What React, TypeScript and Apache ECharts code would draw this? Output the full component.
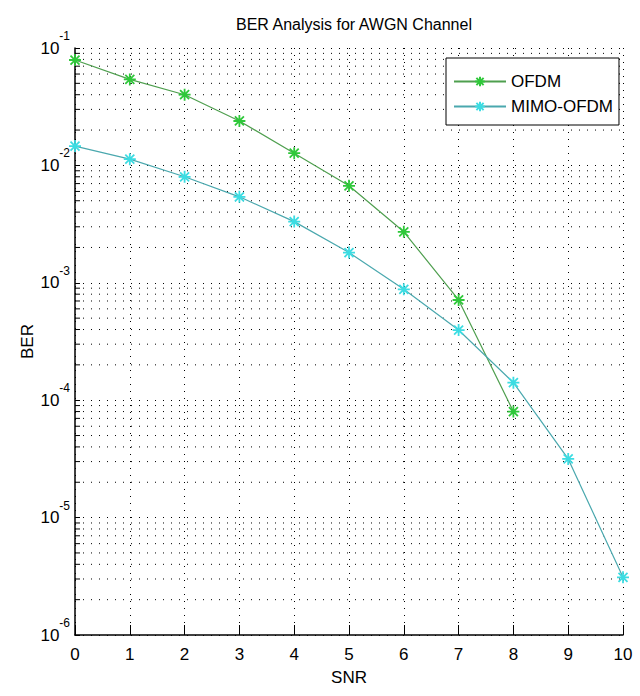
import React, { useEffect, useRef } from "react";
import * as echarts from "echarts";

const snr = [0, 1, 2, 3, 4, 5, 6, 7, 8, 9, 10];
const berOFDM = [0.079, 0.054, 0.040, 0.0239, 0.0127, 0.0067, 0.00272, 0.000714, 0.00008];
const berMIMO = [0.0146, 0.0113, 0.0080, 0.0054, 0.00332, 0.00181, 0.00088, 0.000396, 0.000141, 0.0000316, 0.0000031];
const decades = [-6, -5, -4, -3, -2];
const minorMultipliers = [2, 3, 4, 5, 6, 7, 8, 9];

const FONT = "'Liberation Sans', Arial, Helvetica, sans-serif";
const STAR = "path://M0,-10L0,10M-10,0L10,0M-7.5,-7.5L7.5,7.5M-7.5,7.5L7.5,-7.5";

export default function App() {
  const ref = useRef<HTMLDivElement>(null);
  useEffect(() => {
    if (!ref.current) return;
    const chart = echarts.init(ref.current, null, { renderer: "svg" });
    const minorVals: number[] = [];
    decades.forEach((d) => minorMultipliers.forEach((m) => minorVals.push(m * Math.pow(10, d))));

    chart.setOption({
      animation: false,
      backgroundColor: "#fff",
      title: {
        text: "BER Analysis for AWGN Channel",
        left: 231,
        top: 11,
        textStyle: { fontFamily: FONT, fontSize: 16, fontWeight: "normal", color: "#000" },
      },
      legend: {
        left: 446,
        top: 58,
        orient: "vertical",
        backgroundColor: "#fff",
        borderColor: "#000",
        borderWidth: 1,
        padding: [15, 6, 10, 7],
        itemGap: 8,
        itemWidth: 52,
        itemHeight: 12,
        textStyle: { fontFamily: FONT, fontSize: 17, color: "#000" },
        data: ["OFDM", "MIMO-OFDM"],
      },
      grid: { left: 75, right: 17, top: 48, bottom: 61 },
      xAxis: {
        type: "value",
        min: 0,
        max: 10,
        interval: 1,
        name: "SNR",
        nameLocation: "middle",
        nameGap: 34,
        nameMoveOverlap: false,
        nameTextStyle: { fontFamily: FONT, fontSize: 17, color: "#000" },
        axisLine: { lineStyle: { color: "#000", width: 1.5 } },
        axisTick: { inside: true, length: 10, lineStyle: { color: "#000" } },
        axisLabel: { fontFamily: FONT, fontSize: 17, color: "#000", margin: 11 },
        splitLine: { show: true, lineStyle: { color: "#000", type: [1, 6], width: 1 } },
      },
      yAxis: {
        type: "log",
        logBase: 10,
        min: 1e-6,
        max: 1e-1,
        splitNumber: 5,
        name: "BER",
        nameLocation: "middle",
        nameGap: 39,
        nameMoveOverlap: false,
        nameTextStyle: { fontFamily: FONT, fontSize: 17, color: "#000" },
        axisLine: { show: true, lineStyle: { color: "#000", width: 1.5 } },
        axisTick: { inside: true, length: 5, lineStyle: { color: "#000" } },
        axisLabel: {
          margin: 5,
          formatter: (v: number) => `{b|10}{e|${Math.round(Math.log10(v))}}`,
          rich: {
            b: { fontFamily: FONT, fontSize: 17, color: "#000", lineHeight: 36 },
            e: { fontFamily: FONT, fontSize: 12, color: "#000", lineHeight: 13, verticalAlign: "top" },
          },
        },
        splitLine: { show: true, lineStyle: { color: "#000", type: [1, 7], width: 1 } },
      },
      series: [
        {
          name: "minorGrid",
          type: "custom",
          silent: true,
          z: 1,
          data: minorVals.map((v) => [0, v]),
          renderItem: (params: any, api: any) => {
            const v = api.value(1);
            const p0 = api.coord([0, v]);
            const p1 = api.coord([10, v]);
            return {
              type: "group",
              children: [
                {
                  type: "line",
                  shape: { x1: p0[0], y1: p0[1], x2: p1[0], y2: p1[1] },
                  style: { stroke: "#000", lineWidth: 1, lineDash: [1, 7] },
                },
                {
                  type: "line",
                  shape: { x1: p0[0], y1: p0[1], x2: p0[0] + 5, y2: p0[1] },
                  style: { stroke: "#000", lineWidth: 1 },
                },
              ],
            };
          },
        },
        {
          name: "OFDM",
          type: "line",
          data: berOFDM.map((v, i) => [snr[i], v]),
          symbol: STAR,
          symbolSize: 12,
          showAllSymbol: true,
          lineStyle: { color: "#4f9f4f", width: 1.2 },
          itemStyle: { color: "transparent", borderColor: "#2fc83a", borderWidth: 1.8 },
          z: 5,
        },
        {
          name: "MIMO-OFDM",
          type: "line",
          data: berMIMO.map((v, i) => [snr[i], v]),
          symbol: STAR,
          symbolSize: 12,
          showAllSymbol: true,
          lineStyle: { color: "#4aa8ae", width: 1.2 },
          itemStyle: { color: "transparent", borderColor: "#3cdce2", borderWidth: 1.8 },
          z: 5,
        },
      ],
    });
    return () => chart.dispose();
  }, []);
  return <div ref={ref} style={{ width: 640, height: 696, position: "absolute", left: 0, top: 0 }} />;
}
